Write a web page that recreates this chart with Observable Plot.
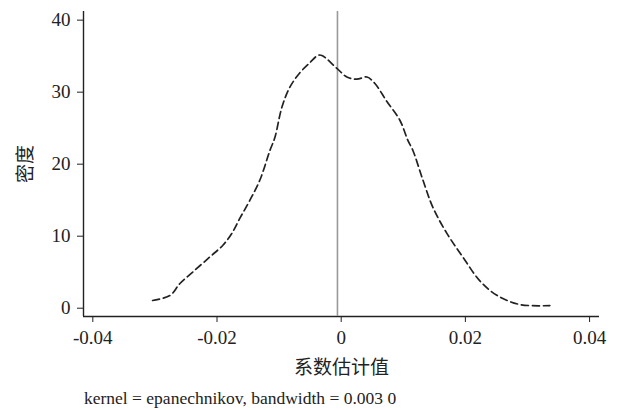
<!DOCTYPE html>
<html>
<head>
<meta charset="utf-8">
<script src="https://cdn.jsdelivr.net/npm/d3@7"></script>
<script src="https://cdn.jsdelivr.net/npm/@observablehq/plot@0.6"></script>
<style>
  body { margin: 0; background: #fff; }
  #wrap { position: relative; width: 619px; height: 410px; }
  #caption { position: absolute; left: 84px; top: 388px; font-family: "Liberation Serif", "Times New Roman", "Noto Sans CJK SC", serif; font-size: 17.5px; line-height: 20px; color: #222; white-space: nowrap; }
</style>
</head>
<body>
<div id="wrap"><div id="chart"></div><div id="caption"></div></div>
<script>
// Kernel density estimate of coefficient estimates
const estimate = [-0.03037, -0.02758, -0.02597, -0.02388, -0.02114, -0.01905, -0.01760, -0.01631, -0.01470, -0.01309, -0.01148, -0.01068, -0.00955, -0.00826, -0.00665, -0.00504, -0.00375, -0.00311, -0.00069, 0.00092, 0.00253, 0.00414, 0.00543, 0.00736, 0.00945, 0.01074, 0.01155, 0.01316, 0.01477, 0.01702, 0.01960, 0.02233, 0.02507, 0.02877, 0.03360];
const density  = [1.07, 1.76, 3.43, 5.04, 7.13, 8.75, 10.4, 12.5, 15.0, 17.8, 21.9, 23.7, 27.9, 30.7, 32.7, 34.1, 35.1, 35.1, 33.3, 32.1, 31.8, 32.1, 31.2, 28.7, 26.1, 23.3, 21.9, 17.8, 14.0, 10.4, 7.1, 3.8, 1.8, 0.51, 0.37];
const referenceLine = [-0.0006];
const xTicks = [-0.04, -0.02, 0, 0.02, 0.04];
const yTicks = [0, 10, 20, 30, 40];
const xDomain = [-0.0415, 0.0416];
const yDomain = [-1.15, 41.2];
const xLabel = "系数估计值";
const yLabel = "密度";
const captionText = "kernel = epanechnikov, bandwidth = 0.003 0";

const data = estimate.map((x, i) => ({x, y: density[i]}));
const fmt = d => d === 0 ? "0" : String(d);

const chart = Plot.plot({
  width: 619,
  height: 385,
  marginLeft: 83,
  marginRight: 20,
  marginTop: 11,
  marginBottom: 69,
  style: { fontFamily: "'Liberation Serif', 'Times New Roman', 'Noto Sans CJK SC', serif", fontSize: "19px", color: "#222", background: "#fff" },
  x: { domain: xDomain },
  y: { domain: yDomain },
  marks: [
    Plot.axisX({ ticks: xTicks, tickFormat: fmt, tickSize: 6, tickPadding: 8, label: null, stroke: "#222" }),
    Plot.axisY({ ticks: yTicks, tickFormat: fmt, tickSize: 6, tickPadding: 7, label: null, stroke: "#222" }),
    Plot.ruleY([yDomain[0]], { stroke: "#222", strokeWidth: 1.4 }),
    Plot.ruleX([xDomain[0]], { stroke: "#222", strokeWidth: 1.4 }),
    Plot.ruleX(referenceLine, { stroke: "#9a9a9a", strokeWidth: 1.6 }),
    Plot.line(data, { x: "x", y: "y", stroke: "#222", strokeWidth: 1.7, strokeDasharray: "7,4", curve: "catmull-rom" }),
    Plot.text([xLabel], { frameAnchor: "bottom", dy: 51, textAnchor: "middle", lineAnchor: "middle", fontSize: 19, fill: "#222" }),
    Plot.text([yLabel], { frameAnchor: "left", dx: -58, rotate: -90, textAnchor: "middle", lineAnchor: "middle", fontSize: 19, fill: "#222" })
  ]
});
document.getElementById("chart").appendChild(chart);
document.getElementById("caption").textContent = captionText;
</script>
</body>
</html>
